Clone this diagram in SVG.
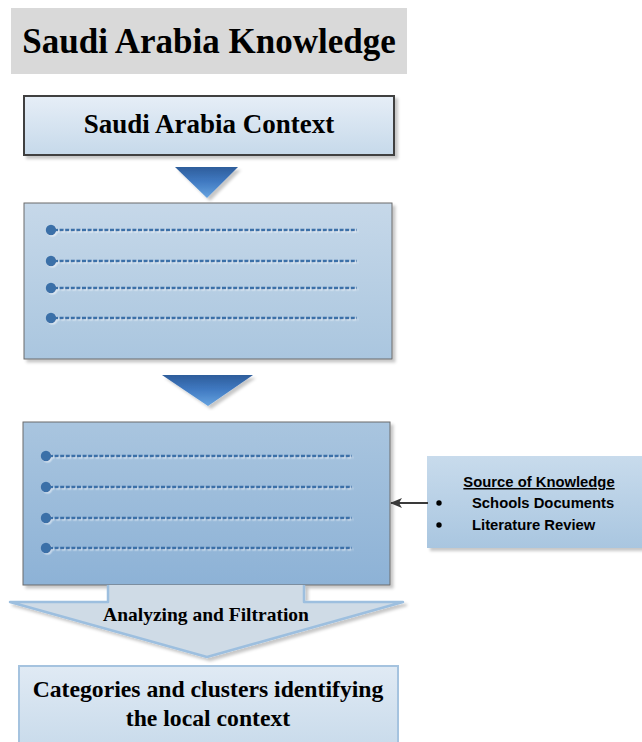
<svg xmlns="http://www.w3.org/2000/svg" width="642" height="742" viewBox="0 0 642 742">
  <defs>
    <linearGradient id="gContext" x1="0" y1="0" x2="0" y2="1">
      <stop offset="0" stop-color="#e6eef7"/>
      <stop offset="1" stop-color="#c6d9ea"/>
    </linearGradient>
    <linearGradient id="gBox2" x1="0" y1="0" x2="0" y2="1">
      <stop offset="0" stop-color="#c6d8e9"/>
      <stop offset="1" stop-color="#aac6df"/>
    </linearGradient>
    <linearGradient id="gBox3" x1="0" y1="0" x2="0" y2="1">
      <stop offset="0" stop-color="#a9c5df"/>
      <stop offset="1" stop-color="#8db2d6"/>
    </linearGradient>
    <linearGradient id="gSource" x1="0" y1="0" x2="0" y2="1">
      <stop offset="0" stop-color="#c8dbec"/>
      <stop offset="1" stop-color="#a9c6e0"/>
    </linearGradient>
    <linearGradient id="gResult" x1="0" y1="0" x2="0" y2="1">
      <stop offset="0" stop-color="#e0eaf4"/>
      <stop offset="1" stop-color="#c9dbeb"/>
    </linearGradient>
    <linearGradient id="gTri" x1="0" y1="0" x2="0" y2="1">
      <stop offset="0" stop-color="#2e5d9b"/>
      <stop offset="0.45" stop-color="#3f78c0"/>
      <stop offset="1" stop-color="#66a3e0"/>
    </linearGradient>
    <filter id="shadow" x="-5%" y="-5%" width="115%" height="120%">
      <feDropShadow dx="3" dy="3" stdDeviation="1.5" flood-color="#000" flood-opacity="0.22"/>
    </filter>
    <filter id="lineShadow" x="-2%" y="-50%" width="104%" height="250%">
      <feDropShadow dx="1.5" dy="1.5" stdDeviation="0.6" flood-color="#ffffff" flood-opacity="0.45"/>
    </filter>
    <marker id="arrowHead" viewBox="0 0 12 10" refX="11" refY="5" markerWidth="12" markerHeight="10" markerUnits="userSpaceOnUse" orient="auto">
      <path d="M0,0 L12,5 L0,10 L3,5 Z" fill="#3a3a3a"/>
    </marker>
  </defs>
  <style>
    .serif { font-family: "Liberation Serif", "Times New Roman", serif; font-weight: bold; fill: #000; }
    .sans { font-family: "Liberation Sans", Arial, sans-serif; font-weight: bold; fill: #000; }
    .dot { fill: #3a6fa8; }
    .dash { stroke: #3a6fa8; stroke-width: 2.6; stroke-dasharray: 4 1.6; fill: none; }
    .bullets { filter: url(#lineShadow); }
    .tri { fill: url(#gTri); filter: url(#shadow); }
  </style>

  <!-- title banner -->
  <g id="title">
    <rect x="11" y="8" width="396" height="66" fill="#d9d9d9"/>
    <text class="serif" x="209" y="53" font-size="35" text-anchor="middle">Saudi Arabia Knowledge</text>
  </g>

  <!-- top context box -->
  <g id="context">
    <rect x="24" y="96" width="370" height="59" fill="url(#gContext)" stroke="#3f3f3f" stroke-width="2" filter="url(#shadow)"/>
    <text class="serif" x="209" y="133" font-size="27" text-anchor="middle">Saudi Arabia Context</text>
  </g>

  <!-- first list box -->
  <g id="list1">
    <rect x="24" y="203" width="368" height="156" fill="url(#gBox2)" stroke="#6b6b6b" stroke-width="1" filter="url(#shadow)"/>
    <g class="bullets">
      <circle class="dot" cx="51" cy="230" r="5.2"/>
      <line class="dash" x1="54" y1="230" x2="357" y2="230"/>
      <circle class="dot" cx="51" cy="261" r="5.2"/>
      <line class="dash" x1="54" y1="261" x2="357" y2="261"/>
      <circle class="dot" cx="51" cy="288" r="5.2"/>
      <line class="dash" x1="54" y1="288" x2="357" y2="288"/>
      <circle class="dot" cx="51" cy="318" r="5.2"/>
      <line class="dash" x1="54" y1="318" x2="357" y2="318"/>
    </g>
  </g>

  <!-- second list box -->
  <g id="list2">
    <rect x="23" y="422" width="367" height="163" fill="url(#gBox3)" stroke="#6b6b6b" stroke-width="1" filter="url(#shadow)"/>
    <g class="bullets">
      <circle class="dot" cx="46" cy="456" r="5.2"/>
      <line class="dash" x1="49" y1="456" x2="352" y2="456"/>
      <circle class="dot" cx="46" cy="487" r="5.2"/>
      <line class="dash" x1="49" y1="487" x2="352" y2="487"/>
      <circle class="dot" cx="46" cy="518" r="5.2"/>
      <line class="dash" x1="49" y1="518" x2="352" y2="518"/>
      <circle class="dot" cx="46" cy="548" r="5.2"/>
      <line class="dash" x1="49" y1="548" x2="352" y2="548"/>
    </g>
  </g>

  <!-- source of knowledge box -->
  <g id="source">
    <rect x="427" y="456" width="215" height="92" fill="url(#gSource)" filter="url(#shadow)"/>
    <text class="sans" x="539" y="487" font-size="14.8" text-anchor="middle" text-decoration="underline">Source of Knowledge</text>
    <circle cx="439" cy="503" r="2.7" fill="#000"/>
    <text class="sans" x="472" y="508" font-size="14.8">Schools Documents</text>
    <circle cx="439" cy="525" r="2.7" fill="#000"/>
    <text class="sans" x="472" y="530" font-size="14.8">Literature Review</text>
  </g>

  <!-- result box -->
  <g id="result">
    <rect x="19" y="666" width="379" height="80" fill="url(#gResult)" stroke="#a5c3df" stroke-width="2"/>
    <text class="serif" x="208" y="697" font-size="23.7" text-anchor="middle">Categories and clusters identifying</text>
    <text class="serif" x="208" y="726" font-size="23.7" text-anchor="middle">the local context</text>
  </g>

  <!-- connectors -->
  <g id="connectors">
    <path class="tri" d="M175,167 L238,167 L207,198 Z"/>
    <path class="tri" d="M162,375 L253,375 L208,406 Z"/>
    <line x1="428" y1="503" x2="391" y2="503" stroke="#3a3a3a" stroke-width="2" marker-end="url(#arrowHead)"/>
    <g id="filtration">
      <path d="M108,585 L108,602 L10,602 L207,657 L403,602 L304,602 L304,585" fill="#cfdbe6" stroke="#9dbfdf" stroke-width="2.5" stroke-linejoin="round" filter="url(#shadow)"/>
      <text class="serif" x="206" y="621" font-size="19.5" text-anchor="middle">Analyzing and Filtration</text>
    </g>
  </g>
</svg>
